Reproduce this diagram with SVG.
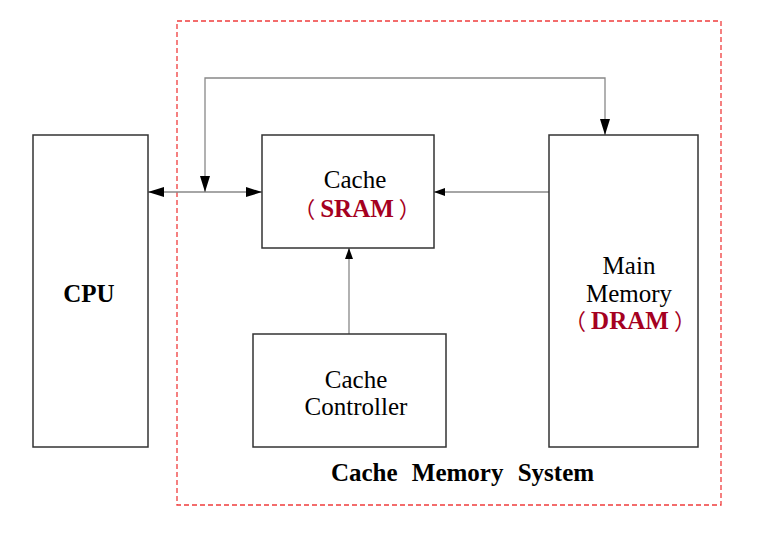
<svg xmlns="http://www.w3.org/2000/svg" width="760" height="536" viewBox="0 0 760 536">
<style>
.box{fill:#fff;stroke:#333;stroke-width:1.5}
.t{font-family:"Liberation Serif","Times New Roman",serif;font-size:25px;fill:#000;text-anchor:middle}
.b{font-weight:bold}
.r{fill:#A50021;font-weight:bold}
.p{font-family:"Noto Sans CJK SC",sans-serif;font-weight:normal;font-size:22px}
.ln{fill:none;stroke:#888;stroke-width:1.3}
</style>
<defs>
<marker id="big" viewBox="0 0 16 10" refX="16" refY="5" markerWidth="16" markerHeight="10" markerUnits="userSpaceOnUse" orient="auto-start-reverse"><path d="M0,0 L16,5 L0,10 z" fill="#000"/></marker>
<marker id="sm" viewBox="0 0 11 8" refX="11" refY="4" markerWidth="11" markerHeight="8" markerUnits="userSpaceOnUse" orient="auto"><path d="M0,0 L11,4 L0,8 z" fill="#000"/></marker>
</defs>
<rect x="0" y="0" width="760" height="536" fill="#fff"/>
<rect x="177" y="21" width="544" height="484" fill="none" stroke="#F03C3C" stroke-width="1.3" stroke-dasharray="5,3"/>
<g id="connectors">
<path class="ln" d="M148,192 L262,192" marker-start="url(#big)" marker-end="url(#big)"/>
<path class="ln" d="M605,135 L605,78 L205,78 L205,192" marker-start="url(#big)" marker-end="url(#big)"/>
<path class="ln" d="M549,192 L434,192" marker-end="url(#sm)"/>
<path class="ln" d="M349,334 L349,248" marker-end="url(#sm)"/>
</g>
<g id="cpu">
<rect class="box" x="33" y="135" width="115" height="312"/>
<text class="t b" x="89" y="302">CPU</text>
</g>
<g id="cache">
<rect class="box" x="262" y="135" width="172" height="113"/>
<text class="t" x="355" y="188">Cache</text>
<text class="t r" x="357" y="217"><tspan class="p">（</tspan><tspan dx="5">SRAM</tspan><tspan class="p" dx="5">）</tspan></text>
</g>
<g id="main-memory">
<rect class="box" x="549" y="135" width="149" height="312"/>
<text class="t" x="629" y="274">Main</text>
<text class="t" x="629" y="302">Memory</text>
<text class="t r" x="630" y="329"><tspan class="p">（</tspan><tspan dx="5">DRAM</tspan><tspan class="p" dx="5">）</tspan></text>
</g>
<g id="cache-controller">
<rect class="box" x="253" y="334" width="193" height="113"/>
<text class="t" x="356" y="388">Cache</text>
<text class="t" x="356" y="415">Controller</text>
</g>
<g id="system-label">
<text class="t b" x="462.5" y="481" word-spacing="8">Cache Memory System</text>
</g>
</svg>
